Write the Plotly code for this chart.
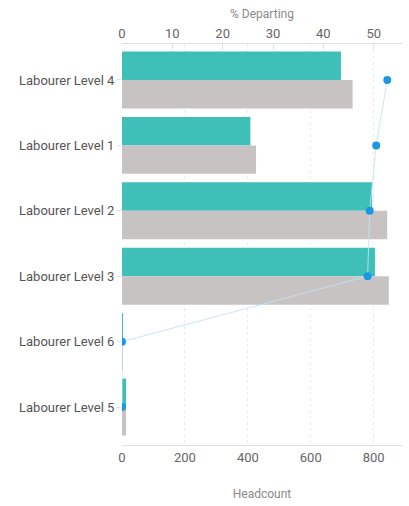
import plotly.graph_objects as go

# Job levels, top to bottom
levels = ["Labourer Level 4", "Labourer Level 1", "Labourer Level 2",
          "Labourer Level 3", "Labourer Level 6", "Labourer Level 5"]

# Headcount series (bottom axis)
departing = [696, 408, 795, 804, 3, 13]
headcount = [733, 426, 843, 848, 1, 13]

# Departure rate (top axis)
pct_departing = [52.7, 50.5, 49.2, 48.8, 0, 0]

headcount_ticks = [0, 200, 400, 600, 800]
pct_ticks = [0, 10, 20, 30, 40, 50]

TEAL = "#3ebfb8"
GREY = "#c7c3c3"
DOT = "#1a98e6"
LINE = "#c4e2f5"
AXIS = "#dcdfe8"
FONT = "Roboto"

fig = go.Figure()

fig.add_trace(go.Bar(
    y=levels, x=departing, orientation="h", name="Departing",
    marker=dict(color=TEAL, line=dict(width=0)),
    xaxis="x", yaxis="y",
))
fig.add_trace(go.Bar(
    y=levels, x=headcount, orientation="h", name="Headcount",
    marker=dict(color=GREY, line=dict(width=0)),
    xaxis="x", yaxis="y",
))
fig.add_trace(go.Scatter(
    y=levels, x=pct_departing, mode="lines+markers", name="% Departing",
    line=dict(color=LINE, width=0.9),
    marker=dict(color=DOT, size=8),
    xaxis="x2", yaxis="y",
))

fig.update_layout(
    width=409, height=506,
    margin=dict(l=122, r=7, t=44, b=61),
    paper_bgcolor="white", plot_bgcolor="white",
    barmode="group", bargap=0.13, bargroupgap=0,
    showlegend=False,
    font=dict(family=FONT, size=12, color="#555555"),
    xaxis=dict(
        range=[0, 890], tickvals=headcount_ticks,
        showgrid=True, gridcolor="#e9ebf1", griddash="dot", gridwidth=1,
        zeroline=False,
        showline=True, linecolor=AXIS, linewidth=1,
        ticks="", tickfont=dict(size=13, color="#666666"),
        title=dict(text="Headcount", font=dict(size=12, color="#8a8a8a"), standoff=26),
    ),
    xaxis2=dict(
        range=[0, 890 / 16], tickvals=pct_ticks,
        overlaying="x", side="top", anchor="y",
        showgrid=False, zeroline=False,
        showline=True, linecolor=AXIS, linewidth=1,
        ticks="inside", ticklen=5, tickcolor=AXIS,
        tickfont=dict(size=13, color="#666666"),
        title=dict(text="% Departing", font=dict(size=12, color="#8a8a8a"), standoff=4),
    ),
    yaxis=dict(
        type="category", categoryorder="array", categoryarray=levels,
        range=[5.58, -0.55],
        showgrid=False, zeroline=False, showline=False,
        ticks="outside", ticklen=4, tickcolor=AXIS,
        tickfont=dict(size=13, color="#555555"),
    ),
)

fig.write_html("out.html")
